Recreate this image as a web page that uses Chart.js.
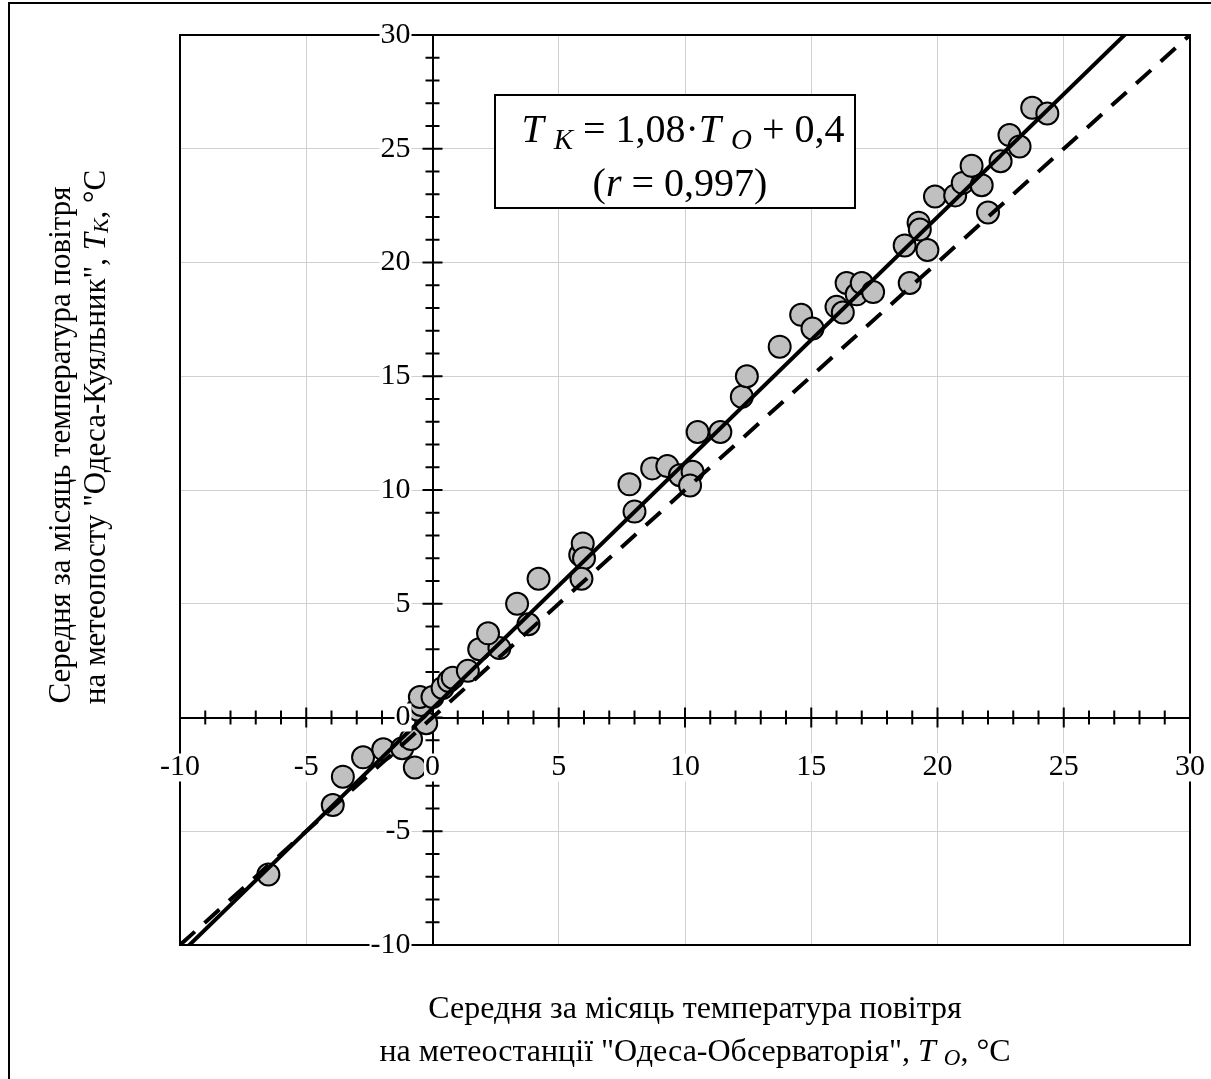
<!DOCTYPE html>
<html>
<head>
<meta charset="utf-8">
<script src="https://cdn.jsdelivr.net/npm/chart.js@4.4.1/dist/chart.umd.min.js"></script>
<style>
html, body { margin: 0; padding: 0; background: #fff; overflow: hidden; }
canvas { display: block; }
</style>
</head>
<body>
<canvas id="chart" width="1211" height="1079"></canvas>
<script>
// monthly means, Odesa-Observatory (x) vs Odesa-Kuyalnyk (y), °C
const obsTemp = [-6.5, -3.95, -3.55, -2.75, -1.95, -1.2, -0.85, -0.7, -0.25, -0.6, -0.45, -0.5,
    0.0, 0.4, 0.65, 0.8, 1.4, 1.85, 2.65, 2.2, 3.35, 3.8, 4.2, 5.85, 5.95, 6.0, 5.9,
    7.8, 8.0, 8.7, 9.3, 9.8, 10.3, 10.2, 10.5, 11.4, 12.25, 12.45, 13.75, 14.6, 15.05,
    16.0, 16.25, 16.4, 16.8, 17.0, 17.45, 18.7, 18.9, 19.25, 19.3, 19.6, 19.9, 20.7,
    21.0, 21.35, 21.75, 22.0, 22.5, 22.85, 23.25, 23.75, 24.35];
const kuyTemp = [-6.9, -3.85, -2.6, -1.75, -1.4, -1.35, -0.95, -2.2, -0.25, 0.35, 0.55, 0.9,
    0.9, 1.3, 1.6, 1.75, 2.05, 3.0, 3.05, 3.7, 5.0, 4.1, 6.1, 7.15, 7.65, 7.0, 6.1,
    10.25, 9.05, 10.95, 11.05, 10.65, 10.8, 10.2, 12.55, 12.55, 14.1, 15.0, 16.3, 17.7, 17.1,
    18.05, 17.8, 19.1, 18.6, 19.1, 18.7, 20.75, 19.1, 21.75, 21.45, 20.55, 22.9, 22.95,
    23.5, 24.25, 23.4, 22.2, 24.45, 25.6, 25.1, 26.8, 26.55];

// regression T_K = 1.08*T_O + 0.4 and the 1:1 line (end points)
const fitX = [-10, 30];
const fitY = [-10.4, 32.8];
const oneX = [-10, 30];
const oneY = [-10, 30];

const axisMin = -10;
const axisMax = 30;
const tickLabels = [-10, -5, 0, 5, 10, 15, 20, 25, 30];

const serif = "'Liberation Serif', 'Times New Roman', serif";

function pts(xs, ys) {
    return xs.map((v, i) => ({ x: v, y: ys[i] }));
}

function runFont(r, size) {
    return (r.it ? "italic " : "") + Math.round(r.sub ? size * 0.72 : size) + "px " + serif;
}

// draw a line of mixed text (italic / subscript parts), centred on x
function drawRuns(ctx, runs, x, y, size) {
    let w = 0;
    runs.forEach(r => {
        ctx.font = runFont(r, size);
        r.w = ctx.measureText(r.t).width;
        w += r.w;
    });
    let cx = x - w / 2;
    ctx.textAlign = "left";
    runs.forEach(r => {
        ctx.font = runFont(r, size);
        ctx.fillText(r.t, cx, y + (r.sub ? size * 0.18 : 0));
        cx += r.w;
    });
    return w;
}

const decor = {
    id: "decor",
    beforeDraw(chart) {
        const ctx = chart.ctx;
        ctx.save();
        ctx.fillStyle = "#fff";
        ctx.fillRect(0, 0, chart.width, chart.height);
        ctx.strokeStyle = "#000";
        ctx.lineWidth = 2;
        ctx.strokeRect(9, 3, chart.width + 40, chart.height + 40);
        ctx.restore();
    },
    beforeDatasetsDraw(chart) {
        const { ctx, scales: { x, y } } = chart;
        const x0 = x.getPixelForValue(0);
        const y0 = y.getPixelForValue(0);
        ctx.save();
        ctx.strokeStyle = "#000";
        ctx.lineWidth = 2;
        ctx.beginPath();
        x.ticks.forEach(t => {
            const px = x.getPixelForValue(t.value);
            const h = t.value % 5 === 0 ? 10 : 7;
            ctx.moveTo(px, y0 - h);
            ctx.lineTo(px, y0 + h);
        });
        y.ticks.forEach(t => {
            const py = y.getPixelForValue(t.value);
            const h = t.value % 5 === 0 ? 10 : 7;
            ctx.moveTo(x0 - h, py);
            ctx.lineTo(x0 + h, py);
        });
        ctx.stroke();
        ctx.restore();
    },
    afterDatasetsDraw(chart) {
        const { ctx, chartArea: a, scales: { x, y } } = chart;
        const x0 = x.getPixelForValue(0);
        const y0 = y.getPixelForValue(0);
        ctx.save();

        // plot frame
        ctx.strokeStyle = "#000";
        ctx.lineWidth = 2;
        ctx.strokeRect(a.left, a.top, a.right - a.left, a.bottom - a.top);

        // tick labels with white background
        ctx.font = "30px " + serif;
        ctx.textBaseline = "middle";
        tickLabels.forEach(v => {
            const s = String(v);
            const w = ctx.measureText(s).width;
            // x labels
            const px = x.getPixelForValue(v);
            const ly = y0 + 50;
            ctx.fillStyle = "#fff";
            ctx.fillRect(px - w / 2 - 1, ly - 14, w + 2, 28);
            ctx.fillStyle = "#000";
            ctx.textAlign = "center";
            ctx.fillText(s, px, ly);
            // y labels
            const py = y.getPixelForValue(v);
            const lx = x0 - 22;
            ctx.fillStyle = "#fff";
            ctx.fillRect(lx - w - 1, py - 14, w + 2, 28);
            ctx.fillStyle = "#000";
            ctx.textAlign = "right";
            ctx.fillText(s, lx, py);
        });

        // equation box
        ctx.fillStyle = "#fff";
        ctx.fillRect(495, 95, 360, 113);
        ctx.strokeRect(495, 95, 360, 113);
        ctx.fillStyle = "#000";
        ctx.textBaseline = "alphabetic";
        drawRuns(ctx, [
            { t: "T ", it: true }, { t: "K", it: true, sub: true },
            { t: " = 1,08·" }, { t: "T ", it: true }, { t: "O", it: true, sub: true },
            { t: " + 0,4" }
        ], 683, 142, 40);
        drawRuns(ctx, [
            { t: "(" }, { t: "r ", it: true }, { t: "= 0,997)" }
        ], 680, 196, 40);

        // x axis title
        ctx.textBaseline = "middle";
        drawRuns(ctx, [{ t: "Середня за місяць температура повітря" }], 695, 1010, 32);
        drawRuns(ctx, [
            { t: "на метеостанції \"Одеса-Обсерваторія\", " },
            { t: "T ", it: true }, { t: "O", it: true, sub: true }, { t: ", °C" }
        ], 695, 1053, 32);

        // y axis title
        ctx.translate(62, 445);
        ctx.rotate(-Math.PI / 2);
        drawRuns(ctx, [{ t: "Середня за місяць температура повітря" }], 0, 0, 31);
        ctx.setTransform(1, 0, 0, 1, 0, 0);
        ctx.translate(97, 437);
        ctx.rotate(-Math.PI / 2);
        drawRuns(ctx, [
            { t: "на метеопосту \"Одеса-Куяльник\", " },
            { t: "T", it: true }, { t: "K", it: true, sub: true }, { t: ", °C" }
        ], 0, 0, 31);
        ctx.restore();
    }
};

const gridColor = c => (c.tick && tickLabels.includes(c.tick.value)) ? "#d0d0d0" : "rgba(0,0,0,0)";

new Chart(document.getElementById("chart"), {
    type: "scatter",
    data: {
        datasets: [
            {
                label: "Місячні середні",
                data: pts(obsTemp, kuyTemp),
                backgroundColor: "#c0c0c0",
                borderColor: "#000",
                borderWidth: 2,
                pointRadius: 11,
                order: 2
            },
            {
                label: "Регресія",
                data: pts(fitX, fitY),
                showLine: true,
                borderColor: "#000",
                borderWidth: 4,
                pointRadius: 0,
                order: 1
            },
            {
                label: "1:1",
                data: pts(oneX, oneY),
                showLine: true,
                borderColor: "#000",
                borderWidth: 4,
                borderDash: [20, 13],
                pointRadius: 0,
                order: 0
            }
        ]
    },
    options: {
        responsive: false,
        animation: false,
        events: [],
        layout: { padding: { left: 180, top: 35, right: 21, bottom: 134 } },
        plugins: { legend: { display: false }, tooltip: { enabled: false } },
        scales: {
            x: {
                type: "linear",
                min: axisMin,
                max: axisMax,
                position: { y: 0 },
                ticks: { display: false, stepSize: 1 },
                grid: { color: gridColor, lineWidth: 1, drawTicks: false },
                border: { display: true, color: "#000", width: 2 }
            },
            y: {
                type: "linear",
                min: axisMin,
                max: axisMax,
                position: { x: 0 },
                ticks: { display: false, stepSize: 1 },
                grid: { color: gridColor, lineWidth: 1, drawTicks: false },
                border: { display: true, color: "#000", width: 2 }
            }
        }
    },
    plugins: [decor]
});
</script>
</body>
</html>
